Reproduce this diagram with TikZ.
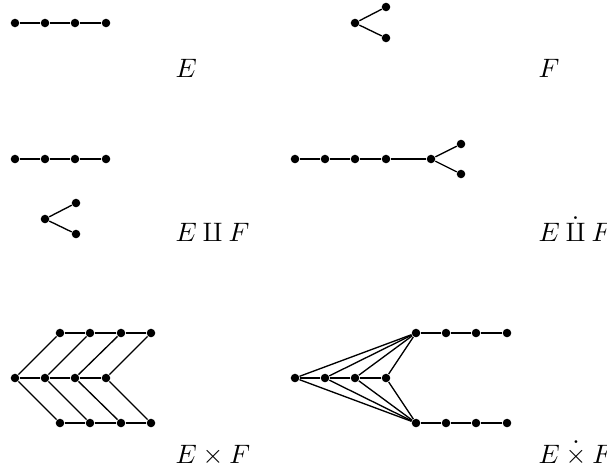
\documentclass[tikz,border=0pt]{standalone}
\usepackage{amsmath,amssymb}
\usepackage{tikz}
\usetikzlibrary{positioning}

\begin{document}
\begin{tikzpicture}[
  x=0.375pt, y=-0.375pt,
  vtx/.style={circle, fill=black, inner sep=0pt, minimum size=3.2pt},
  edg/.style={line width=0.5pt},
  lab/.style={anchor=base west, inner sep=0pt}
]
\useasboundingbox (0,0) rectangle (607,475);

%% --- E ---------------------------------------------------------------
\foreach \i/\x in {1/15, 2/45, 3/75, 4/106}
  \node[vtx] (e\i) at (\x,23) {};
\foreach \a/\b in {e1/e2, e2/e3, e3/e4}
  \draw[edg] (\a)--(\b);
\node[lab] (e_l) at (175,77) {$E$};

%% --- F ---------------------------------------------------------------
\node[vtx] (f0) at (355,23) {};
\node[vtx] (fa) at (386,7)  {};
\node[vtx] (fb) at (386,38) {};
\draw[edg] (fa)--(f0)--(fb);
\node[lab] (f_l) at (538,77) {$F$};

%% --- E amalg F -------------------------------------------------------
\foreach \i/\x in {1/15, 2/45, 3/75, 4/106}
  \node[vtx] (s\i) at (\x,159) {};
\foreach \a/\b in {s1/s2, s2/s3, s3/s4}
  \draw[edg] (\a)--(\b);
\node[vtx] (s0) at (45,219) {};
\node[vtx] (sa) at (76,203) {};
\node[vtx] (sb) at (76,234) {};
\draw[edg] (sa)--(s0)--(sb);
\node[lab] (s_l) at (175,241) {$E\amalg F$};

%% --- E dot-amalg F ---------------------------------------------------
\foreach \i/\x in {1/295, 2/325, 3/355, 4/386}
  \node[vtx] (d\i) at (\x,159) {};
\node[vtx] (d0) at (431,159) {};
\node[vtx] (da) at (461,144) {};
\node[vtx] (db) at (461,174) {};
\foreach \a/\b in {d1/d2, d2/d3, d3/d4, d4/d0, d0/da, d0/db}
  \draw[edg] (\a)--(\b);
\node[lab] (d_l) at (538,241) {$E\mathbin{\dot{\amalg}}F$};

%% --- E x F -----------------------------------------------------------
\foreach \i/\x in {1/15, 2/45, 3/75, 4/106}
  \node[vtx] (pm\i) at (\x,378) {};
\foreach \i/\x in {1/60, 2/90, 3/121, 4/151} {
  \node[vtx] (pt\i) at (\x,333) {};
  \node[vtx] (pb\i) at (\x,423) {};
}
\foreach \a/\b in {1/2, 2/3, 3/4} {
  \draw[edg] (pm\a)--(pm\b);
  \draw[edg] (pt\a)--(pt\b);
  \draw[edg] (pb\a)--(pb\b);
}
\foreach \i in {1,...,4}
  \draw[edg] (pt\i)--(pm\i)--(pb\i);
\node[lab] (p_l) at (175,463) {$E\times F$};

%% --- E dot-times F ---------------------------------------------------
\foreach \i/\x in {1/295, 2/325, 3/355, 4/386}
  \node[vtx] (qm\i) at (\x,378) {};
\foreach \i/\x in {1/416, 2/446, 3/476, 4/507} {
  \node[vtx] (qt\i) at (\x,333) {};
  \node[vtx] (qb\i) at (\x,423) {};
}
\foreach \a/\b in {1/2, 2/3, 3/4} {
  \draw[edg] (qm\a)--(qm\b);
  \draw[edg] (qt\a)--(qt\b);
  \draw[edg] (qb\a)--(qb\b);
}
\foreach \i in {1,...,4}
  \draw[edg] (qt1)--(qm\i)--(qb1);
\node[lab] (q_l) at (538,463) {$E\mathbin{\dot{\times}}F$};

\end{tikzpicture}
\end{document}
